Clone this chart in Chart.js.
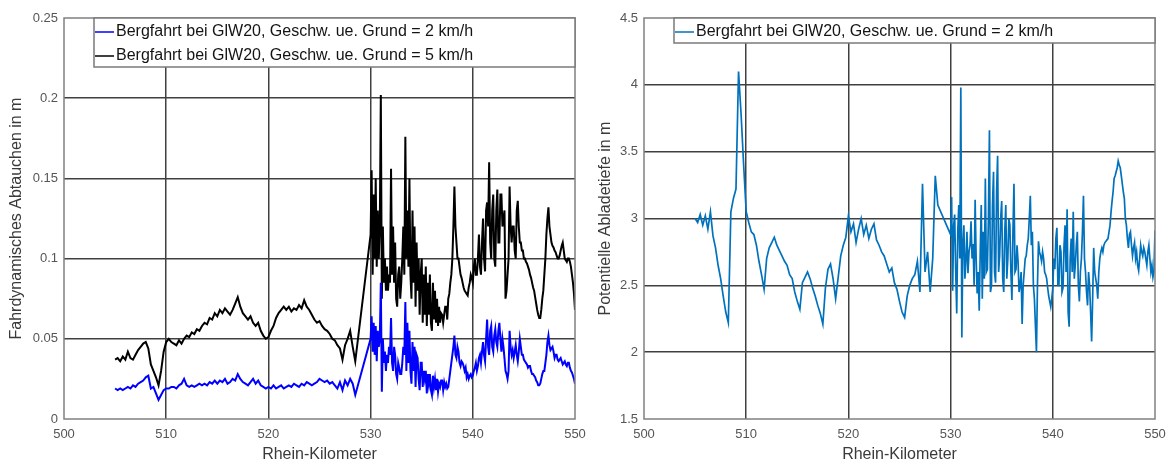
<!DOCTYPE html>
<html>
<head>
<meta charset="utf-8">
<script src="https://cdn.jsdelivr.net/npm/chart.js@4.4.0/dist/chart.umd.min.js"></script>
<style>
  body { margin: 0; background: #fff; }
  #wrap { position: relative; width: 1171px; height: 464px; overflow: hidden; }
  #left { position: absolute; left: 0; top: 0; }
  #right { position: absolute; left: 580px; top: 0; }
</style>
</head>
<body>
<div id="wrap">
  <canvas id="left" width="605" height="464"></canvas>
  <canvas id="right" width="591" height="464"></canvas>
</div>
<script>
// Rhein-Kilometer (shared by all three series), null = gap in the data
const km = [
  505,505.25,505.5,505.75, 506,506.25,506.5,506.75, 507,507.25,507.5,507.75,
  508,508.25,508.5,508.75, 509,509.25,509.5,509.75, 510,510.25,510.5,510.75,
  511,511.25,511.5,511.75, 512,512.25,512.5,512.75, 513,513.25,513.5,513.75,
  514,514.25,514.5,514.75, 515,515.25,515.5,515.75, 516,516.25,516.5,516.75,
  517,517.25,517.5,517.75, 518,518.25,518.5,518.75, 519,519.25,519.5,519.75,
  520,520.25,520.5,520.75, 521,521.25,521.5,521.75, 522,522.25,522.5,522.75,
  523,523.25,523.5,523.75, 524,524.25,524.5,524.75, 525,525.25,525.5,525.75,
  526,526.25,526.5,526.75, 527,527.25,527.5,527.75, 528,528.25,528.5,528.75,
  529,529.25,529.5,529.75,
  530,530.1,530.2,530.3,530.4,530.5,530.6,530.7,530.8,530.9,
  531,531.1,531.2,531.3,531.4,531.5,531.6,531.7,531.8,531.9,
  532,532.1,532.2,532.3,532.4,532.5,532.6,532.7,532.8,532.9,
  533,533.1,533.2,533.3,533.4,533.5,533.6,533.7,533.8,533.9,
  534,534.1,534.2,534.3,534.4,534.5,534.6,534.7,534.8,534.9,
  535,535.1,535.2,535.3,535.4,535.5,535.6,535.7,535.8,535.9,
  536,536.1,536.2,536.3,536.4,536.5,536.6,536.7,536.8,536.9,
  537,537.1,537.2,537.3,537.4,537.5,537.6,537.7,537.8,537.9,
  538,538.1,538.2,538.3,538.4,538.5,538.6,538.7,538.8,538.9,
  539,539.1,539.2,539.3,539.4,539.5,539.6,539.7,539.8,539.9,
  540,540.1,540.2,540.3,540.4,540.5,540.6,540.7,540.8,540.9,
  541,541.1,541.2,541.3,541.4,541.5,541.6,541.7,541.8,541.9,
  542,542.1,542.2,542.3,542.4,542.5,542.6,542.7,542.8,542.9,
  543,543.1,543.2,543.3,543.4,543.5,543.6,543.7,543.8,543.9,
  544,544.1,544.2,544.3,544.4,544.5,544.6,544.7,544.8,544.9,
  545,545.1,545.2,545.3,545.4,545.5,545.6,545.7,545.8,545.9,
  546,546.1,546.2,546.3,546.4,546.5,546.6,546.7,546.8,546.9,
  547,547.1,547.2,547.3,547.4,547.5,547.6,547.7,547.8,547.9,
  548,548.1,548.2,548.3,548.4,548.5,548.6,548.7,548.8,548.9,
  549,549.1,549.2,549.3,549.4,549.5,549.6,549.7,549.8,549.9,
  550
];

// Fahrdynamisches Abtauchen, 2 km/h
const abtauchen2 = [
  .019,.018,.019,.018, .019,.02,.019,.021, .02,.022,.023,.024,
  .026,.027,.019,.02, .016,.012,.015,.018, .019,.019,.02,.02,
  .019,.021,.022,.025, .021,.02,.021,.02, .021,.022,.021,.022,
  .021,.023,.022,.024, .022,.024,.023,.025, .022,.023,.025,.024,
  .028,.025,.023,.022, .021,.023,.025,.022, .024,.021,.02,.019,
  .02,.019,.021,.019, .02,.021,.019,.02, .021,.02,.022,.021,
  .02,.022,.021,.023, .022,.021,.022,.023, .025,.024,.023,.024,
  .022,.023,.021,.019, .023,.018,.024,.021, .025,.022,.015,null,
  null,null,null,null,
  .05,.064,.042,.06,.04,.058,.036,.055,.045,.05,
  .085,.017,.05,.035,.042,.03,.04,.035,.045,.04,
  .063,.035,.03,.045,.04,.028,.025,.035,.032,.028,
  .028,.035,.045,.04,.073,.03,.06,.035,.055,.03,
  .022,.048,.03,.045,.02,.04,.038,.025,.018,.035,
  .035,.02,.03,.025,.03,.016,.028,.022,.028,.018,
  .015,.027,.02,.025,.018,.025,.017,.022,.02,.024,
  .024,.018,.023,.02,.022,.019,.02,.025,.03,.035,
  .04,.045,.052,.04,.038,.045,.042,.035,.033,.036,
  .035,.033,.03,.032,.026,.028,.025,.027,.028,.026,
  .027,.03,.032,.035,.03,.033,.038,.04,.035,.042,
  .048,.04,.036,.05,.062,.045,.04,.055,.058,.045,
  .042,.052,.056,.048,.045,.055,.06,.05,.042,.05,
  .045,.038,.03,.028,.025,.03,.055,.045,.04,.043,
  .038,.042,.046,.04,.036,.042,.05,.045,.04,.04,
  .037,.036,.035,.034,.032,.033,.033,.03,.028,.028,
  .027,.026,.024,.023,.021,.021,.022,.025,.028,.03,
  .03,.035,.04,.048,.052,.046,.043,.044,.045,.042,
  .038,.04,.04,.037,.036,.037,.038,.036,.034,.035,
  .036,.034,.033,.035,.035,.032,.03,.029,.027,.025,
  .022
];

// Fahrdynamisches Abtauchen, 5 km/h
const abtauchen5 = [
  .037,.038,.036,.039, .037,.042,.038,.037, .04,.043,.045,.047,
  .048,.044,.034,.03, .026,.021,.03,.042, .048,.05,.048,.047,
  .046,.049,.047,.05, .052,.051,.054,.053, .056,.055,.058,.06,
  .059,.063,.062,.066, .064,.068,.066,.069, .067,.065,.068,.072,
  .076,.07,.066,.064, .062,.064,.06,.058, .06,.055,.052,.05,
  .051,.055,.058,.063, .066,.068,.07,.068, .07,.067,.069,.068,
  .071,.069,.074,.07, .068,.065,.062,.06, .061,.058,.056,.055,
  .053,.05,.049,.046, .044,.037,.046,.05, .055,.045,.036,null,
  null,null,null,null,
  .115,.155,.09,.14,.1,.15,.095,.13,.1,.12,
  .202,.075,.12,.085,.1,.08,.095,.08,.09,.085,
  .156,.09,.12,.085,.11,.075,.07,.09,.095,.075,
  .085,.1,.12,.09,.176,.1,.13,.095,.15,.09,
  .075,.13,.085,.12,.07,.11,.08,.1,.065,.09,
  .1,.06,.09,.065,.095,.058,.085,.065,.09,.06,
  .055,.085,.062,.08,.06,.075,.058,.07,.06,.066,
  .065,.06,.065,.07,.07,.062,.075,.078,.085,.09,
  .1,.12,.145,.12,.11,.1,.1,.095,.09,.088,
  .085,.082,.08,.079,.078,.077,.082,.085,.09,.088,
  .085,.095,.1,.09,.09,.1,.115,.095,.09,.11,
  .125,.1,.092,.13,.135,.12,.16,.11,.1,.13,
  .14,.1,.095,.13,.143,.11,.11,.14,.14,.12,
  .125,.13,.075,.08,.09,.1,.145,.12,.11,.12,
  .12,.105,.1,.13,.136,.12,.11,.11,.105,.105,
  .1,.1,.098,.097,.095,.093,.09,.088,.085,.082,
  .08,.076,.072,.068,.065,.063,.063,.068,.075,.08,
  .09,.1,.115,.125,.132,.12,.115,.11,.108,.107,
  .105,.104,.102,.1,.1,.102,.105,.108,.11,.105,
  .1,.099,.098,.1,.1,.098,.095,.09,.085,.078,
  .068
];

// Potentielle Abladetiefe, 2 km/h
const abladetiefe2 = [
  3.0,2.97,3.03,2.95, 3.02,2.92,3.05,2.87, 2.78,2.65,2.55,2.42,
  2.3,2.22,3.05,3.15, 3.22,4.1,3.78,3.4, 3.05,2.97,2.9,2.88,
  2.8,2.68,2.58,2.47, 2.7,2.78,2.82,2.86, 2.8,2.76,2.72,2.68,
  2.65,2.58,2.55,2.45, 2.38,2.32,2.52,2.56, 2.6,2.55,2.48,2.42,
  2.35,2.29,2.21,2.48, 2.62,2.66,2.55,2.4, 2.56,2.72,2.8,2.86,
  3.02,2.9,2.96,2.82, 2.92,3.0,2.88,2.95, 2.85,2.92,2.96,2.84,
  2.8,2.75,2.72,2.66, 2.6,2.63,2.52,2.47, 2.38,2.3,2.26,2.42,
  2.5,2.55,2.58,2.68, 2.45,3.26,2.6,2.75, 2.45,2.7,3.32,3.1,
  null,null,null,null,
  2.88,3.16,2.46,2.95,3.03,2.6,2.29,2.9,3.1,2.7,
  3.98,2.11,2.8,2.95,2.55,2.68,2.9,2.59,2.75,2.8,
  2.98,2.7,2.81,2.5,3.14,2.7,2.44,2.6,2.31,2.75,
  3.1,2.4,2.9,2.55,3.3,2.6,2.62,3.0,3.66,2.45,
  2.5,3.1,3.35,2.6,2.52,3.2,3.47,2.6,2.72,3.0,
  3.13,2.55,2.45,2.9,3.1,2.55,2.7,3.0,2.95,2.6,
  2.39,2.9,3.26,2.6,2.62,2.8,2.68,2.45,2.5,2.6,
  2.21,2.5,2.6,2.7,2.72,2.8,2.85,3.0,3.17,2.8,
  2.9,2.5,2.4,2.2,2.0,2.5,2.83,2.75,2.72,2.68,
  2.75,2.7,2.6,2.58,2.55,2.48,2.42,2.38,2.34,2.4,
  2.48,2.7,2.62,2.85,2.93,2.5,2.5,2.8,2.75,2.45,
  2.48,2.8,2.95,2.6,3.07,2.3,2.19,2.7,2.85,2.6,
  3.05,2.55,2.65,2.8,2.9,2.5,2.38,2.6,2.7,2.9,
  3.17,2.7,2.6,2.45,2.35,2.6,2.5,2.3,2.08,2.4,
  2.78,2.6,2.55,2.5,2.4,2.6,2.7,2.75,2.78,2.75,
  2.8,2.82,2.83,2.84,2.85,2.9,2.95,3.05,3.13,3.2,
  3.3,3.32,3.35,3.38,3.43,3.4,3.38,3.32,3.26,3.2,
  3.15,3.0,2.95,2.85,2.78,2.88,2.9,2.8,2.72,2.78,
  2.82,2.7,2.75,2.65,2.61,2.7,2.8,2.75,2.72,2.78,
  2.75,2.7,2.65,2.75,2.8,2.7,2.6,2.65,2.56,2.6,
  2.91
];

const label2 = 'Bergfahrt bei GlW20, Geschw. ue. Grund = 2 km/h';
const label5 = 'Bergfahrt bei GlW20, Geschw. ue. Grund = 5 km/h';

Chart.defaults.font.family = "'Liberation Sans', Arial, Helvetica, sans-serif";

const gridColor = '#404040';
const tickColor = '#555555';
const titleColor = '#3a3a3a';

// grid lines, but none on the outer edges (the box is drawn by the plugin)
function gridNoEdge(lo, hi) {
  return c => {
    if (!c.tick) return gridColor;
    const v = c.tick.value;
    return (Math.abs(v - lo) < 1e-9 || Math.abs(v - hi) < 1e-9) ? 'rgba(0,0,0,0)' : gridColor;
  };
}

// matlab style tick text: 0.1 not 0.10, 4 not 4.0
const plainTick = v => String(Math.round(v * 1000) / 1000);

// axes box + legend inside the top right corner, like matlab
const boxLegend = {
  id: 'boxLegend',
  afterDraw(chart) {
    const ctx = chart.ctx;
    const a = chart.chartArea;
    ctx.save();
    ctx.strokeStyle = '#808080';
    ctx.lineWidth = 1.5;
    ctx.strokeRect(a.left, a.top, a.right - a.left, a.bottom - a.top);

    const sets = chart.data.datasets;
    const x0 = a.left + 30;
    const y0 = a.top;
    const w = a.right - x0;
    const h = 24 * sets.length + 1;
    ctx.fillStyle = '#fff';
    ctx.fillRect(x0, y0, w, h);
    ctx.strokeStyle = '#7a7a7a';
    ctx.strokeRect(x0, y0, w, h);

    ctx.font = '16px ' + Chart.defaults.font.family;
    ctx.textBaseline = 'middle';
    sets.forEach((s, i) => {
      const yy = y0 + 14 + 24 * i;
      ctx.strokeStyle = s.borderColor;
      ctx.lineWidth = 1.5;
      ctx.beginPath();
      ctx.moveTo(x0 + 1, yy);
      ctx.lineTo(x0 + 20, yy);
      ctx.stroke();
      ctx.fillStyle = '#141414';
      ctx.fillText(s.label, x0 + 22, yy);
    });
    ctx.restore();
  }
};

function makeChart(id, series, yMin, yMax, yStep, yTitle, titlePad, padRight, lw) {
  return new Chart(document.getElementById(id), {
    type: 'line',
    data: {
      datasets: series.map(s => ({
        label: s.label,
        data: km.map((x, i) => ({ x: x, y: s.values[i] })),
        borderColor: s.color,
        borderWidth: lw,
        pointRadius: 0,
        tension: 0,
        spanGaps: true
      }))
    },
    options: {
      responsive: false,
      animation: false,
      events: [],
      layout: { padding: { left: 0, right: padRight, top: 18, bottom: 0 } },
      plugins: { legend: { display: false }, tooltip: { enabled: false } },
      scales: {
        x: {
          type: 'linear', min: 500, max: 550,
          ticks: { stepSize: 10, padding: 8, color: tickColor, font: { size: 13 }, maxRotation: 0, callback: plainTick },
          grid: { color: gridNoEdge(500, 550), lineWidth: 1.5, drawTicks: false },
          border: { display: false },
          title: { display: true, text: 'Rhein-Kilometer', color: titleColor, font: { size: 16 }, padding: { top: 0, bottom: 0 } },
          afterFit(s) { s.height = 45; s.paddingLeft = 0; s.paddingRight = 0; }
        },
        y: {
          type: 'linear', min: yMin, max: yMax,
          ticks: { stepSize: yStep, padding: 6, color: tickColor, font: { size: 13 }, callback: plainTick },
          grid: { color: gridNoEdge(yMin, yMax), lineWidth: 1.5, drawTicks: false },
          border: { display: false },
          title: { display: true, text: yTitle, color: titleColor, font: { size: 16 }, padding: { top: titlePad, bottom: 0 } },
          afterFit(s) { s.width = 64; s.paddingTop = 0; s.paddingBottom = 0; }
        }
      }
    },
    plugins: [boxLegend]
  });
}

makeChart('left', [
  { label: label2, values: abtauchen2, color: '#0000ff' },
  { label: label5, values: abtauchen5, color: '#000000' }
], 0, 0.25, 0.05, 'Fahrdynamisches Abtauchen in m', 7, 30, 2);

makeChart('right', [
  { label: label2, values: abladetiefe2, color: '#0072bd' }
], 1.5, 4.5, 0.5, 'Potentielle Abladetiefe in m', 16, 16, 1.7);
</script>
</body>
</html>
